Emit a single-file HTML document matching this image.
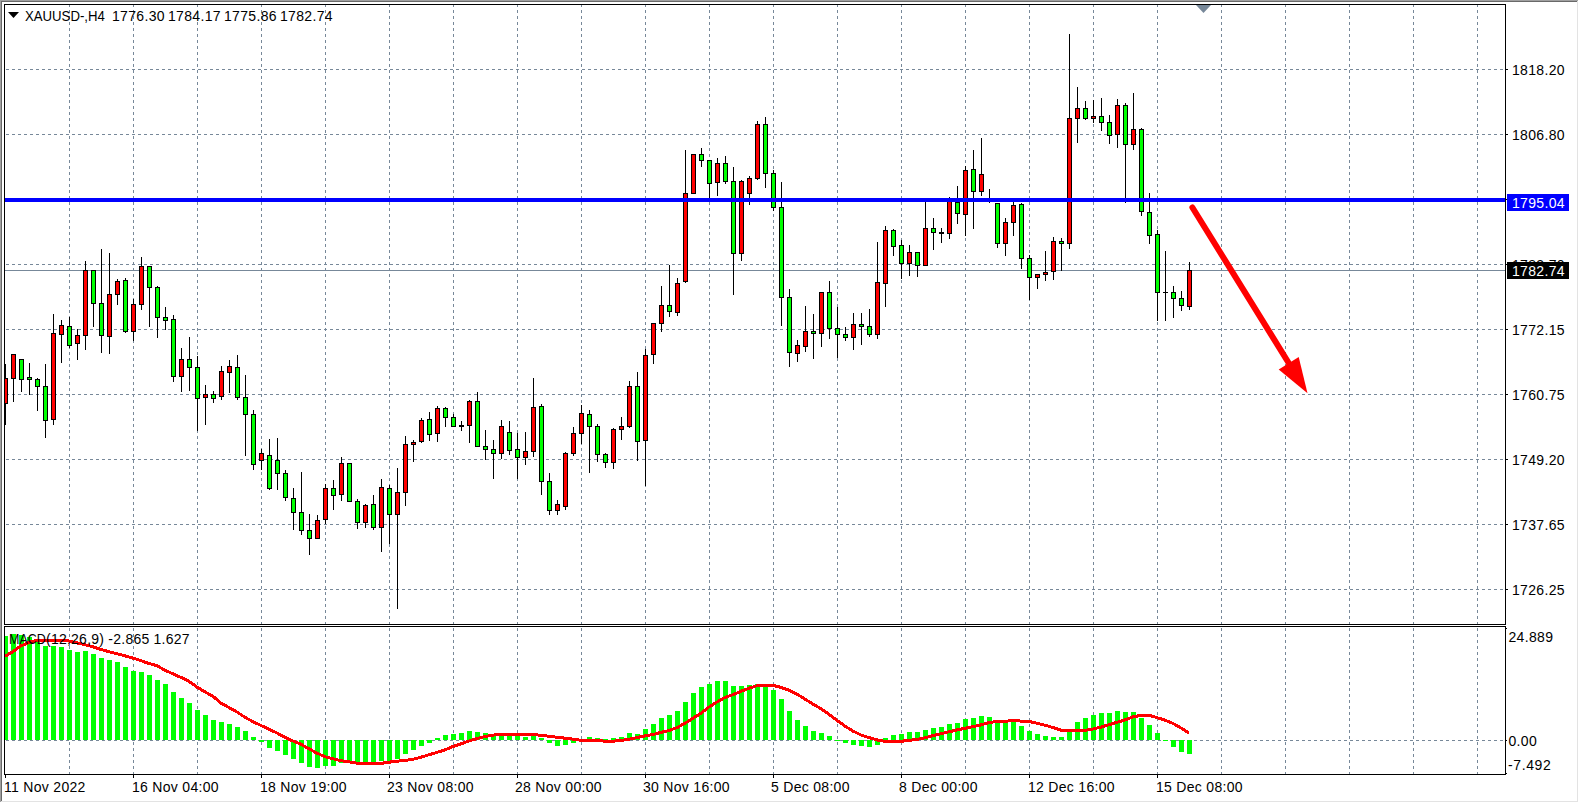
<!DOCTYPE html>
<html><head><meta charset="utf-8"><title>XAUUSD H4</title>
<style>
html,body{margin:0;padding:0;background:#fff;}
body{width:1579px;height:803px;overflow:hidden;}
svg{display:block;}
text{font-family:"Liberation Sans",sans-serif;font-size:14px;fill:#000;}
</style></head><body>
<svg width="1579" height="803" viewBox="0 0 1579 803">
<defs><clipPath id="cm"><rect x="5" y="5" width="1500" height="619"/></clipPath><clipPath id="cs"><rect x="5" y="627" width="1500" height="147"/></clipPath></defs>
<g shape-rendering="crispEdges"><rect x="0" y="0" width="1579" height="803" fill="#fff"/><rect x="0" y="0" width="1578" height="1" fill="#a0a0a0"/><rect x="0" y="0" width="1" height="802" fill="#a0a0a0"/><rect x="1" y="1" width="1576" height="1" fill="#696969"/><rect x="1" y="1" width="1" height="800" fill="#696969"/><rect x="1" y="801" width="1577" height="1" fill="#e3e3e3"/><rect x="1577" y="1" width="1" height="801" fill="#e3e3e3"/></g>
<g clip-path="url(#cm)" shape-rendering="crispEdges"><line x1="0" y1="69.5" x2="1505" y2="69.5" stroke="#778899" stroke-width="1" stroke-dasharray="3 3"/><line x1="0" y1="134.5" x2="1505" y2="134.5" stroke="#778899" stroke-width="1" stroke-dasharray="3 3"/><line x1="0" y1="199.5" x2="1505" y2="199.5" stroke="#778899" stroke-width="1" stroke-dasharray="3 3"/><line x1="0" y1="264.5" x2="1505" y2="264.5" stroke="#778899" stroke-width="1" stroke-dasharray="3 3"/><line x1="0" y1="329.5" x2="1505" y2="329.5" stroke="#778899" stroke-width="1" stroke-dasharray="3 3"/><line x1="0" y1="394.5" x2="1505" y2="394.5" stroke="#778899" stroke-width="1" stroke-dasharray="3 3"/><line x1="0" y1="459.5" x2="1505" y2="459.5" stroke="#778899" stroke-width="1" stroke-dasharray="3 3"/><line x1="0" y1="524.5" x2="1505" y2="524.5" stroke="#778899" stroke-width="1" stroke-dasharray="3 3"/><line x1="0" y1="589.5" x2="1505" y2="589.5" stroke="#778899" stroke-width="1" stroke-dasharray="3 3"/><line x1="69.5" y1="4" x2="69.5" y2="624" stroke="#778899" stroke-width="1" stroke-dasharray="3 3"/><line x1="133.5" y1="4" x2="133.5" y2="624" stroke="#778899" stroke-width="1" stroke-dasharray="3 3"/><line x1="197.5" y1="4" x2="197.5" y2="624" stroke="#778899" stroke-width="1" stroke-dasharray="3 3"/><line x1="261.5" y1="4" x2="261.5" y2="624" stroke="#778899" stroke-width="1" stroke-dasharray="3 3"/><line x1="325.5" y1="4" x2="325.5" y2="624" stroke="#778899" stroke-width="1" stroke-dasharray="3 3"/><line x1="389.5" y1="4" x2="389.5" y2="624" stroke="#778899" stroke-width="1" stroke-dasharray="3 3"/><line x1="453.5" y1="4" x2="453.5" y2="624" stroke="#778899" stroke-width="1" stroke-dasharray="3 3"/><line x1="517.5" y1="4" x2="517.5" y2="624" stroke="#778899" stroke-width="1" stroke-dasharray="3 3"/><line x1="581.5" y1="4" x2="581.5" y2="624" stroke="#778899" stroke-width="1" stroke-dasharray="3 3"/><line x1="645.5" y1="4" x2="645.5" y2="624" stroke="#778899" stroke-width="1" stroke-dasharray="3 3"/><line x1="709.5" y1="4" x2="709.5" y2="624" stroke="#778899" stroke-width="1" stroke-dasharray="3 3"/><line x1="773.5" y1="4" x2="773.5" y2="624" stroke="#778899" stroke-width="1" stroke-dasharray="3 3"/><line x1="837.5" y1="4" x2="837.5" y2="624" stroke="#778899" stroke-width="1" stroke-dasharray="3 3"/><line x1="901.5" y1="4" x2="901.5" y2="624" stroke="#778899" stroke-width="1" stroke-dasharray="3 3"/><line x1="965.5" y1="4" x2="965.5" y2="624" stroke="#778899" stroke-width="1" stroke-dasharray="3 3"/><line x1="1029.5" y1="4" x2="1029.5" y2="624" stroke="#778899" stroke-width="1" stroke-dasharray="3 3"/><line x1="1093.5" y1="4" x2="1093.5" y2="624" stroke="#778899" stroke-width="1" stroke-dasharray="3 3"/><line x1="1157.5" y1="4" x2="1157.5" y2="624" stroke="#778899" stroke-width="1" stroke-dasharray="3 3"/><line x1="1221.5" y1="4" x2="1221.5" y2="624" stroke="#778899" stroke-width="1" stroke-dasharray="3 3"/><line x1="1285.5" y1="4" x2="1285.5" y2="624" stroke="#778899" stroke-width="1" stroke-dasharray="3 3"/><line x1="1349.5" y1="4" x2="1349.5" y2="624" stroke="#778899" stroke-width="1" stroke-dasharray="3 3"/><line x1="1413.5" y1="4" x2="1413.5" y2="624" stroke="#778899" stroke-width="1" stroke-dasharray="3 3"/><line x1="1477.5" y1="4" x2="1477.5" y2="624" stroke="#778899" stroke-width="1" stroke-dasharray="3 3"/><rect x="5" y="270" width="1500" height="1" fill="#778899"/><rect x="5" y="364" width="1" height="61" fill="#000"/><rect x="3" y="378" width="5" height="26" fill="#000"/><rect x="4" y="379" width="3" height="24" fill="#ff0000"/><rect x="13" y="354" width="1" height="48" fill="#000"/><rect x="11" y="354" width="5" height="25" fill="#000"/><rect x="12" y="355" width="3" height="23" fill="#ff0000"/><rect x="21" y="359" width="1" height="33" fill="#000"/><rect x="19" y="359" width="5" height="21" fill="#000"/><rect x="20" y="360" width="3" height="19" fill="#00ff00"/><rect x="29" y="363" width="1" height="32" fill="#000"/><rect x="27" y="377" width="5" height="3" fill="#000"/><rect x="28" y="378" width="3" height="1" fill="#00ff00"/><rect x="37" y="378" width="1" height="33" fill="#000"/><rect x="35" y="379" width="5" height="8" fill="#000"/><rect x="36" y="380" width="3" height="6" fill="#00ff00"/><rect x="45" y="364" width="1" height="74" fill="#000"/><rect x="43" y="386" width="5" height="35" fill="#000"/><rect x="44" y="387" width="3" height="33" fill="#00ff00"/><rect x="53" y="314" width="1" height="111" fill="#000"/><rect x="51" y="333" width="5" height="87" fill="#000"/><rect x="52" y="334" width="3" height="85" fill="#ff0000"/><rect x="61" y="320" width="1" height="43" fill="#000"/><rect x="59" y="325" width="5" height="10" fill="#000"/><rect x="60" y="326" width="3" height="8" fill="#ff0000"/><rect x="69" y="317" width="1" height="31" fill="#000"/><rect x="67" y="326" width="5" height="20" fill="#000"/><rect x="68" y="327" width="3" height="18" fill="#00ff00"/><rect x="77" y="329" width="1" height="31" fill="#000"/><rect x="75" y="335" width="5" height="9" fill="#000"/><rect x="76" y="336" width="3" height="7" fill="#ff0000"/><rect x="85" y="261" width="1" height="89" fill="#000"/><rect x="83" y="270" width="5" height="66" fill="#000"/><rect x="84" y="271" width="3" height="64" fill="#ff0000"/><rect x="93" y="270" width="1" height="57" fill="#000"/><rect x="91" y="270" width="5" height="34" fill="#000"/><rect x="92" y="271" width="3" height="32" fill="#00ff00"/><rect x="101" y="249" width="1" height="104" fill="#000"/><rect x="99" y="303" width="5" height="33" fill="#000"/><rect x="100" y="304" width="3" height="31" fill="#00ff00"/><rect x="109" y="253" width="1" height="101" fill="#000"/><rect x="107" y="294" width="5" height="43" fill="#000"/><rect x="108" y="295" width="3" height="41" fill="#ff0000"/><rect x="117" y="279" width="1" height="26" fill="#000"/><rect x="115" y="281" width="5" height="14" fill="#000"/><rect x="116" y="282" width="3" height="12" fill="#ff0000"/><rect x="125" y="278" width="1" height="55" fill="#000"/><rect x="123" y="280" width="5" height="52" fill="#000"/><rect x="124" y="281" width="3" height="50" fill="#00ff00"/><rect x="133" y="299" width="1" height="42" fill="#000"/><rect x="131" y="304" width="5" height="28" fill="#000"/><rect x="132" y="305" width="3" height="26" fill="#ff0000"/><rect x="141" y="257" width="1" height="53" fill="#000"/><rect x="139" y="266" width="5" height="39" fill="#000"/><rect x="140" y="267" width="3" height="37" fill="#ff0000"/><rect x="149" y="266" width="1" height="61" fill="#000"/><rect x="147" y="266" width="5" height="22" fill="#000"/><rect x="148" y="267" width="3" height="20" fill="#00ff00"/><rect x="157" y="286" width="1" height="52" fill="#000"/><rect x="155" y="287" width="5" height="31" fill="#000"/><rect x="156" y="288" width="3" height="29" fill="#00ff00"/><rect x="165" y="307" width="1" height="23" fill="#000"/><rect x="163" y="317" width="5" height="4" fill="#000"/><rect x="164" y="318" width="3" height="2" fill="#00ff00"/><rect x="173" y="315" width="1" height="67" fill="#000"/><rect x="171" y="319" width="5" height="58" fill="#000"/><rect x="172" y="320" width="3" height="56" fill="#00ff00"/><rect x="181" y="348" width="1" height="44" fill="#000"/><rect x="179" y="359" width="5" height="18" fill="#000"/><rect x="180" y="360" width="3" height="16" fill="#ff0000"/><rect x="189" y="337" width="1" height="54" fill="#000"/><rect x="187" y="359" width="5" height="9" fill="#000"/><rect x="188" y="360" width="3" height="7" fill="#00ff00"/><rect x="197" y="356" width="1" height="75" fill="#000"/><rect x="195" y="367" width="5" height="32" fill="#000"/><rect x="196" y="368" width="3" height="30" fill="#00ff00"/><rect x="205" y="385" width="1" height="40" fill="#000"/><rect x="203" y="394" width="5" height="4" fill="#000"/><rect x="204" y="395" width="3" height="2" fill="#ff0000"/><rect x="213" y="391" width="1" height="12" fill="#000"/><rect x="211" y="394" width="5" height="5" fill="#000"/><rect x="212" y="395" width="3" height="3" fill="#00ff00"/><rect x="221" y="366" width="1" height="34" fill="#000"/><rect x="219" y="371" width="5" height="26" fill="#000"/><rect x="220" y="372" width="3" height="24" fill="#ff0000"/><rect x="229" y="360" width="1" height="33" fill="#000"/><rect x="227" y="366" width="5" height="7" fill="#000"/><rect x="228" y="367" width="3" height="5" fill="#ff0000"/><rect x="237" y="355" width="1" height="45" fill="#000"/><rect x="235" y="367" width="5" height="31" fill="#000"/><rect x="236" y="368" width="3" height="29" fill="#00ff00"/><rect x="245" y="375" width="1" height="81" fill="#000"/><rect x="243" y="397" width="5" height="18" fill="#000"/><rect x="244" y="398" width="3" height="16" fill="#00ff00"/><rect x="253" y="410" width="1" height="60" fill="#000"/><rect x="251" y="414" width="5" height="51" fill="#000"/><rect x="252" y="415" width="3" height="49" fill="#00ff00"/><rect x="261" y="449" width="1" height="21" fill="#000"/><rect x="259" y="453" width="5" height="8" fill="#000"/><rect x="260" y="454" width="3" height="6" fill="#ff0000"/><rect x="269" y="439" width="1" height="51" fill="#000"/><rect x="267" y="455" width="5" height="34" fill="#000"/><rect x="268" y="456" width="3" height="32" fill="#00ff00"/><rect x="277" y="438" width="1" height="52" fill="#000"/><rect x="275" y="460" width="5" height="14" fill="#000"/><rect x="276" y="461" width="3" height="12" fill="#00ff00"/><rect x="285" y="470" width="1" height="31" fill="#000"/><rect x="283" y="473" width="5" height="25" fill="#000"/><rect x="284" y="474" width="3" height="23" fill="#00ff00"/><rect x="293" y="488" width="1" height="42" fill="#000"/><rect x="291" y="498" width="5" height="15" fill="#000"/><rect x="292" y="499" width="3" height="13" fill="#00ff00"/><rect x="301" y="472" width="1" height="63" fill="#000"/><rect x="299" y="512" width="5" height="19" fill="#000"/><rect x="300" y="513" width="3" height="17" fill="#00ff00"/><rect x="309" y="514" width="1" height="41" fill="#000"/><rect x="307" y="530" width="5" height="9" fill="#000"/><rect x="308" y="531" width="3" height="7" fill="#00ff00"/><rect x="317" y="515" width="1" height="24" fill="#000"/><rect x="315" y="520" width="5" height="19" fill="#000"/><rect x="316" y="521" width="3" height="17" fill="#ff0000"/><rect x="325" y="484" width="1" height="40" fill="#000"/><rect x="323" y="488" width="5" height="32" fill="#000"/><rect x="324" y="489" width="3" height="30" fill="#ff0000"/><rect x="333" y="480" width="1" height="30" fill="#000"/><rect x="331" y="488" width="5" height="8" fill="#000"/><rect x="332" y="489" width="3" height="6" fill="#00ff00"/><rect x="341" y="457" width="1" height="44" fill="#000"/><rect x="339" y="463" width="5" height="32" fill="#000"/><rect x="340" y="464" width="3" height="30" fill="#ff0000"/><rect x="349" y="463" width="1" height="39" fill="#000"/><rect x="347" y="463" width="5" height="39" fill="#000"/><rect x="348" y="464" width="3" height="37" fill="#00ff00"/><rect x="357" y="499" width="1" height="30" fill="#000"/><rect x="355" y="501" width="5" height="22" fill="#000"/><rect x="356" y="502" width="3" height="20" fill="#00ff00"/><rect x="365" y="504" width="1" height="24" fill="#000"/><rect x="363" y="505" width="5" height="18" fill="#000"/><rect x="364" y="506" width="3" height="16" fill="#ff0000"/><rect x="373" y="495" width="1" height="35" fill="#000"/><rect x="371" y="504" width="5" height="24" fill="#000"/><rect x="372" y="505" width="3" height="22" fill="#00ff00"/><rect x="381" y="479" width="1" height="73" fill="#000"/><rect x="379" y="487" width="5" height="41" fill="#000"/><rect x="380" y="488" width="3" height="39" fill="#ff0000"/><rect x="389" y="485" width="1" height="59" fill="#000"/><rect x="387" y="488" width="5" height="27" fill="#000"/><rect x="388" y="489" width="3" height="25" fill="#00ff00"/><rect x="397" y="468" width="1" height="141" fill="#000"/><rect x="395" y="492" width="5" height="23" fill="#000"/><rect x="396" y="493" width="3" height="21" fill="#ff0000"/><rect x="405" y="436" width="1" height="70" fill="#000"/><rect x="403" y="444" width="5" height="49" fill="#000"/><rect x="404" y="445" width="3" height="47" fill="#ff0000"/><rect x="413" y="440" width="1" height="22" fill="#000"/><rect x="411" y="442" width="5" height="3" fill="#000"/><rect x="412" y="443" width="3" height="1" fill="#ff0000"/><rect x="421" y="418" width="1" height="25" fill="#000"/><rect x="419" y="420" width="5" height="22" fill="#000"/><rect x="420" y="421" width="3" height="20" fill="#ff0000"/><rect x="429" y="412" width="1" height="29" fill="#000"/><rect x="427" y="419" width="5" height="16" fill="#000"/><rect x="428" y="420" width="3" height="14" fill="#00ff00"/><rect x="437" y="406" width="1" height="36" fill="#000"/><rect x="435" y="408" width="5" height="26" fill="#000"/><rect x="436" y="409" width="3" height="24" fill="#ff0000"/><rect x="445" y="407" width="1" height="20" fill="#000"/><rect x="443" y="408" width="5" height="10" fill="#000"/><rect x="444" y="409" width="3" height="8" fill="#00ff00"/><rect x="453" y="414" width="1" height="13" fill="#000"/><rect x="451" y="417" width="5" height="10" fill="#000"/><rect x="452" y="418" width="3" height="8" fill="#00ff00"/><rect x="461" y="421" width="1" height="10" fill="#000"/><rect x="459" y="425" width="5" height="2" fill="#000"/><rect x="469" y="400" width="1" height="43" fill="#000"/><rect x="467" y="401" width="5" height="25" fill="#000"/><rect x="468" y="402" width="3" height="23" fill="#ff0000"/><rect x="477" y="392" width="1" height="55" fill="#000"/><rect x="475" y="401" width="5" height="46" fill="#000"/><rect x="476" y="402" width="3" height="44" fill="#00ff00"/><rect x="485" y="430" width="1" height="30" fill="#000"/><rect x="483" y="446" width="5" height="4" fill="#000"/><rect x="484" y="447" width="3" height="2" fill="#00ff00"/><rect x="493" y="440" width="1" height="39" fill="#000"/><rect x="491" y="449" width="5" height="5" fill="#000"/><rect x="492" y="450" width="3" height="3" fill="#00ff00"/><rect x="501" y="420" width="1" height="39" fill="#000"/><rect x="499" y="426" width="5" height="28" fill="#000"/><rect x="500" y="427" width="3" height="26" fill="#ff0000"/><rect x="509" y="421" width="1" height="34" fill="#000"/><rect x="507" y="432" width="5" height="19" fill="#000"/><rect x="508" y="433" width="3" height="17" fill="#00ff00"/><rect x="517" y="433" width="1" height="46" fill="#000"/><rect x="515" y="449" width="5" height="9" fill="#000"/><rect x="516" y="450" width="3" height="7" fill="#00ff00"/><rect x="525" y="432" width="1" height="33" fill="#000"/><rect x="523" y="451" width="5" height="7" fill="#000"/><rect x="524" y="452" width="3" height="5" fill="#ff0000"/><rect x="533" y="378" width="1" height="79" fill="#000"/><rect x="531" y="407" width="5" height="45" fill="#000"/><rect x="532" y="408" width="3" height="43" fill="#ff0000"/><rect x="541" y="404" width="1" height="91" fill="#000"/><rect x="539" y="406" width="5" height="76" fill="#000"/><rect x="540" y="407" width="3" height="74" fill="#00ff00"/><rect x="549" y="473" width="1" height="42" fill="#000"/><rect x="547" y="481" width="5" height="30" fill="#000"/><rect x="548" y="482" width="3" height="28" fill="#00ff00"/><rect x="557" y="500" width="1" height="15" fill="#000"/><rect x="555" y="504" width="5" height="7" fill="#000"/><rect x="556" y="505" width="3" height="5" fill="#ff0000"/><rect x="565" y="452" width="1" height="58" fill="#000"/><rect x="563" y="453" width="5" height="54" fill="#000"/><rect x="564" y="454" width="3" height="52" fill="#ff0000"/><rect x="573" y="427" width="1" height="29" fill="#000"/><rect x="571" y="433" width="5" height="21" fill="#000"/><rect x="572" y="434" width="3" height="19" fill="#ff0000"/><rect x="581" y="405" width="1" height="39" fill="#000"/><rect x="579" y="413" width="5" height="21" fill="#000"/><rect x="580" y="414" width="3" height="19" fill="#ff0000"/><rect x="589" y="410" width="1" height="63" fill="#000"/><rect x="587" y="414" width="5" height="13" fill="#000"/><rect x="588" y="415" width="3" height="11" fill="#00ff00"/><rect x="597" y="424" width="1" height="38" fill="#000"/><rect x="595" y="426" width="5" height="29" fill="#000"/><rect x="596" y="427" width="3" height="27" fill="#00ff00"/><rect x="605" y="453" width="1" height="15" fill="#000"/><rect x="603" y="454" width="5" height="9" fill="#000"/><rect x="604" y="455" width="3" height="7" fill="#00ff00"/><rect x="613" y="428" width="1" height="41" fill="#000"/><rect x="611" y="429" width="5" height="34" fill="#000"/><rect x="612" y="430" width="3" height="32" fill="#ff0000"/><rect x="621" y="417" width="1" height="23" fill="#000"/><rect x="619" y="426" width="5" height="4" fill="#000"/><rect x="620" y="427" width="3" height="2" fill="#ff0000"/><rect x="629" y="381" width="1" height="47" fill="#000"/><rect x="627" y="386" width="5" height="41" fill="#000"/><rect x="628" y="387" width="3" height="39" fill="#ff0000"/><rect x="637" y="372" width="1" height="89" fill="#000"/><rect x="635" y="386" width="5" height="56" fill="#000"/><rect x="636" y="387" width="3" height="54" fill="#00ff00"/><rect x="645" y="349" width="1" height="137" fill="#000"/><rect x="643" y="355" width="5" height="86" fill="#000"/><rect x="644" y="356" width="3" height="84" fill="#ff0000"/><rect x="653" y="323" width="1" height="41" fill="#000"/><rect x="651" y="323" width="5" height="32" fill="#000"/><rect x="652" y="324" width="3" height="30" fill="#ff0000"/><rect x="661" y="286" width="1" height="46" fill="#000"/><rect x="659" y="305" width="5" height="19" fill="#000"/><rect x="660" y="306" width="3" height="17" fill="#ff0000"/><rect x="669" y="265" width="1" height="52" fill="#000"/><rect x="667" y="305" width="5" height="7" fill="#000"/><rect x="668" y="306" width="3" height="5" fill="#00ff00"/><rect x="677" y="278" width="1" height="38" fill="#000"/><rect x="675" y="283" width="5" height="30" fill="#000"/><rect x="676" y="284" width="3" height="28" fill="#ff0000"/><rect x="685" y="150" width="1" height="133" fill="#000"/><rect x="683" y="193" width="5" height="89" fill="#000"/><rect x="684" y="194" width="3" height="87" fill="#ff0000"/><rect x="693" y="154" width="1" height="40" fill="#000"/><rect x="691" y="154" width="5" height="40" fill="#000"/><rect x="692" y="155" width="3" height="38" fill="#ff0000"/><rect x="701" y="148" width="1" height="19" fill="#000"/><rect x="699" y="154" width="5" height="7" fill="#000"/><rect x="700" y="155" width="3" height="5" fill="#00ff00"/><rect x="709" y="160" width="1" height="40" fill="#000"/><rect x="707" y="160" width="5" height="24" fill="#000"/><rect x="708" y="161" width="3" height="22" fill="#00ff00"/><rect x="717" y="158" width="1" height="38" fill="#000"/><rect x="715" y="163" width="5" height="20" fill="#000"/><rect x="716" y="164" width="3" height="18" fill="#ff0000"/><rect x="725" y="156" width="1" height="28" fill="#000"/><rect x="723" y="163" width="5" height="19" fill="#000"/><rect x="724" y="164" width="3" height="17" fill="#00ff00"/><rect x="733" y="167" width="1" height="128" fill="#000"/><rect x="731" y="181" width="5" height="73" fill="#000"/><rect x="732" y="182" width="3" height="71" fill="#00ff00"/><rect x="741" y="180" width="1" height="81" fill="#000"/><rect x="739" y="181" width="5" height="73" fill="#000"/><rect x="740" y="182" width="3" height="71" fill="#ff0000"/><rect x="749" y="176" width="1" height="29" fill="#000"/><rect x="747" y="178" width="5" height="16" fill="#000"/><rect x="748" y="179" width="3" height="14" fill="#ff0000"/><rect x="757" y="121" width="1" height="59" fill="#000"/><rect x="755" y="124" width="5" height="55" fill="#000"/><rect x="756" y="125" width="3" height="53" fill="#ff0000"/><rect x="765" y="117" width="1" height="71" fill="#000"/><rect x="763" y="124" width="5" height="50" fill="#000"/><rect x="764" y="125" width="3" height="48" fill="#00ff00"/><rect x="773" y="170" width="1" height="41" fill="#000"/><rect x="771" y="173" width="5" height="35" fill="#000"/><rect x="772" y="174" width="3" height="33" fill="#00ff00"/><rect x="781" y="182" width="1" height="144" fill="#000"/><rect x="779" y="207" width="5" height="91" fill="#000"/><rect x="780" y="208" width="3" height="89" fill="#00ff00"/><rect x="789" y="289" width="1" height="78" fill="#000"/><rect x="787" y="297" width="5" height="56" fill="#000"/><rect x="788" y="298" width="3" height="54" fill="#00ff00"/><rect x="797" y="340" width="1" height="22" fill="#000"/><rect x="795" y="345" width="5" height="9" fill="#000"/><rect x="796" y="346" width="3" height="7" fill="#ff0000"/><rect x="805" y="306" width="1" height="46" fill="#000"/><rect x="803" y="331" width="5" height="16" fill="#000"/><rect x="804" y="332" width="3" height="14" fill="#ff0000"/><rect x="813" y="314" width="1" height="45" fill="#000"/><rect x="811" y="331" width="5" height="3" fill="#000"/><rect x="812" y="332" width="3" height="1" fill="#00ff00"/><rect x="821" y="292" width="1" height="55" fill="#000"/><rect x="819" y="292" width="5" height="42" fill="#000"/><rect x="820" y="293" width="3" height="40" fill="#ff0000"/><rect x="829" y="281" width="1" height="58" fill="#000"/><rect x="827" y="292" width="5" height="37" fill="#000"/><rect x="828" y="293" width="3" height="35" fill="#00ff00"/><rect x="837" y="307" width="1" height="51" fill="#000"/><rect x="835" y="328" width="5" height="7" fill="#000"/><rect x="836" y="329" width="3" height="5" fill="#00ff00"/><rect x="845" y="327" width="1" height="14" fill="#000"/><rect x="843" y="334" width="5" height="4" fill="#000"/><rect x="844" y="335" width="3" height="2" fill="#00ff00"/><rect x="853" y="313" width="1" height="37" fill="#000"/><rect x="851" y="324" width="5" height="14" fill="#000"/><rect x="852" y="325" width="3" height="12" fill="#ff0000"/><rect x="861" y="313" width="1" height="32" fill="#000"/><rect x="859" y="324" width="5" height="3" fill="#000"/><rect x="860" y="325" width="3" height="1" fill="#00ff00"/><rect x="869" y="309" width="1" height="28" fill="#000"/><rect x="867" y="326" width="5" height="9" fill="#000"/><rect x="868" y="327" width="3" height="7" fill="#00ff00"/><rect x="877" y="242" width="1" height="97" fill="#000"/><rect x="875" y="282" width="5" height="53" fill="#000"/><rect x="876" y="283" width="3" height="51" fill="#ff0000"/><rect x="885" y="226" width="1" height="81" fill="#000"/><rect x="883" y="230" width="5" height="54" fill="#000"/><rect x="884" y="231" width="3" height="52" fill="#ff0000"/><rect x="893" y="229" width="1" height="27" fill="#000"/><rect x="891" y="230" width="5" height="17" fill="#000"/><rect x="892" y="231" width="3" height="15" fill="#00ff00"/><rect x="901" y="240" width="1" height="39" fill="#000"/><rect x="899" y="245" width="5" height="19" fill="#000"/><rect x="900" y="246" width="3" height="17" fill="#00ff00"/><rect x="909" y="245" width="1" height="31" fill="#000"/><rect x="907" y="252" width="5" height="12" fill="#000"/><rect x="908" y="253" width="3" height="10" fill="#ff0000"/><rect x="917" y="252" width="1" height="25" fill="#000"/><rect x="915" y="252" width="5" height="14" fill="#000"/><rect x="916" y="253" width="3" height="12" fill="#00ff00"/><rect x="925" y="202" width="1" height="64" fill="#000"/><rect x="923" y="228" width="5" height="38" fill="#000"/><rect x="924" y="229" width="3" height="36" fill="#ff0000"/><rect x="933" y="218" width="1" height="32" fill="#000"/><rect x="931" y="228" width="5" height="5" fill="#000"/><rect x="932" y="229" width="3" height="3" fill="#00ff00"/><rect x="941" y="228" width="1" height="15" fill="#000"/><rect x="939" y="232" width="5" height="2" fill="#000"/><rect x="949" y="197" width="1" height="42" fill="#000"/><rect x="947" y="198" width="5" height="36" fill="#000"/><rect x="948" y="199" width="3" height="34" fill="#ff0000"/><rect x="957" y="186" width="1" height="38" fill="#000"/><rect x="955" y="202" width="5" height="12" fill="#000"/><rect x="956" y="203" width="3" height="10" fill="#00ff00"/><rect x="965" y="166" width="1" height="70" fill="#000"/><rect x="963" y="170" width="5" height="45" fill="#000"/><rect x="964" y="171" width="3" height="43" fill="#ff0000"/><rect x="973" y="150" width="1" height="79" fill="#000"/><rect x="971" y="169" width="5" height="23" fill="#000"/><rect x="972" y="170" width="3" height="21" fill="#00ff00"/><rect x="981" y="138" width="1" height="58" fill="#000"/><rect x="979" y="174" width="5" height="18" fill="#000"/><rect x="980" y="175" width="3" height="16" fill="#ff0000"/><rect x="989" y="189" width="1" height="14" fill="#000"/><rect x="987" y="199" width="5" height="2" fill="#000"/><rect x="997" y="203" width="1" height="45" fill="#000"/><rect x="995" y="203" width="5" height="41" fill="#000"/><rect x="996" y="204" width="3" height="39" fill="#00ff00"/><rect x="1005" y="218" width="1" height="38" fill="#000"/><rect x="1003" y="222" width="5" height="22" fill="#000"/><rect x="1004" y="223" width="3" height="20" fill="#ff0000"/><rect x="1013" y="202" width="1" height="34" fill="#000"/><rect x="1011" y="205" width="5" height="18" fill="#000"/><rect x="1012" y="206" width="3" height="16" fill="#ff0000"/><rect x="1021" y="203" width="1" height="66" fill="#000"/><rect x="1019" y="204" width="5" height="55" fill="#000"/><rect x="1020" y="205" width="3" height="53" fill="#00ff00"/><rect x="1029" y="255" width="1" height="45" fill="#000"/><rect x="1027" y="258" width="5" height="20" fill="#000"/><rect x="1028" y="259" width="3" height="18" fill="#00ff00"/><rect x="1037" y="274" width="1" height="15" fill="#000"/><rect x="1035" y="274" width="5" height="4" fill="#000"/><rect x="1036" y="275" width="3" height="2" fill="#ff0000"/><rect x="1045" y="251" width="1" height="30" fill="#000"/><rect x="1043" y="272" width="5" height="3" fill="#000"/><rect x="1044" y="273" width="3" height="1" fill="#ff0000"/><rect x="1053" y="237" width="1" height="43" fill="#000"/><rect x="1051" y="241" width="5" height="31" fill="#000"/><rect x="1052" y="242" width="3" height="29" fill="#ff0000"/><rect x="1061" y="238" width="1" height="33" fill="#000"/><rect x="1059" y="241" width="5" height="3" fill="#000"/><rect x="1060" y="242" width="3" height="1" fill="#00ff00"/><rect x="1069" y="34" width="1" height="215" fill="#000"/><rect x="1067" y="118" width="5" height="126" fill="#000"/><rect x="1068" y="119" width="3" height="124" fill="#ff0000"/><rect x="1077" y="87" width="1" height="56" fill="#000"/><rect x="1075" y="108" width="5" height="11" fill="#000"/><rect x="1076" y="109" width="3" height="9" fill="#ff0000"/><rect x="1085" y="101" width="1" height="19" fill="#000"/><rect x="1083" y="108" width="5" height="11" fill="#000"/><rect x="1084" y="109" width="3" height="9" fill="#00ff00"/><rect x="1093" y="100" width="1" height="23" fill="#000"/><rect x="1091" y="116" width="5" height="3" fill="#000"/><rect x="1092" y="117" width="3" height="1" fill="#ff0000"/><rect x="1101" y="98" width="1" height="33" fill="#000"/><rect x="1099" y="116" width="5" height="7" fill="#000"/><rect x="1100" y="117" width="3" height="5" fill="#00ff00"/><rect x="1109" y="115" width="1" height="29" fill="#000"/><rect x="1107" y="122" width="5" height="14" fill="#000"/><rect x="1108" y="123" width="3" height="12" fill="#00ff00"/><rect x="1117" y="99" width="1" height="49" fill="#000"/><rect x="1115" y="105" width="5" height="30" fill="#000"/><rect x="1116" y="106" width="3" height="28" fill="#ff0000"/><rect x="1125" y="103" width="1" height="100" fill="#000"/><rect x="1123" y="105" width="5" height="40" fill="#000"/><rect x="1124" y="106" width="3" height="38" fill="#00ff00"/><rect x="1133" y="93" width="1" height="57" fill="#000"/><rect x="1131" y="129" width="5" height="16" fill="#000"/><rect x="1132" y="130" width="3" height="14" fill="#ff0000"/><rect x="1141" y="128" width="1" height="88" fill="#000"/><rect x="1139" y="129" width="5" height="83" fill="#000"/><rect x="1140" y="130" width="3" height="81" fill="#00ff00"/><rect x="1149" y="193" width="1" height="51" fill="#000"/><rect x="1147" y="212" width="5" height="24" fill="#000"/><rect x="1148" y="213" width="3" height="22" fill="#00ff00"/><rect x="1157" y="230" width="1" height="91" fill="#000"/><rect x="1155" y="234" width="5" height="59" fill="#000"/><rect x="1156" y="235" width="3" height="57" fill="#00ff00"/><rect x="1165" y="251" width="1" height="70" fill="#000"/><rect x="1163" y="292" width="5" height="1" fill="#000"/><rect x="1173" y="286" width="1" height="32" fill="#000"/><rect x="1171" y="292" width="5" height="7" fill="#000"/><rect x="1172" y="293" width="3" height="5" fill="#00ff00"/><rect x="1181" y="291" width="1" height="20" fill="#000"/><rect x="1179" y="298" width="5" height="8" fill="#000"/><rect x="1180" y="299" width="3" height="6" fill="#00ff00"/><rect x="1189" y="262" width="1" height="48" fill="#000"/><rect x="1187" y="270" width="5" height="37" fill="#000"/><rect x="1188" y="271" width="3" height="35" fill="#ff0000"/><rect x="5" y="198" width="1500" height="4" fill="#0000ff"/></g>
<polygon points="1196,5 1211,5 1203.5,13" fill="#778899"/>
<g><line x1="1192.4" y1="207.5" x2="1289" y2="363.5" stroke="#ff0000" stroke-width="6" stroke-linecap="round"/><polygon points="1278.7,369.5 1298.7,357 1307.5,393.2" fill="#ff0000"/></g>
<g clip-path="url(#cs)" shape-rendering="crispEdges"><line x1="0" y1="740.5" x2="1505" y2="740.5" stroke="#778899" stroke-width="1" stroke-dasharray="3 3"/><line x1="69.5" y1="4" x2="69.5" y2="775" stroke="#778899" stroke-width="1" stroke-dasharray="3 3"/><line x1="133.5" y1="4" x2="133.5" y2="775" stroke="#778899" stroke-width="1" stroke-dasharray="3 3"/><line x1="197.5" y1="4" x2="197.5" y2="775" stroke="#778899" stroke-width="1" stroke-dasharray="3 3"/><line x1="261.5" y1="4" x2="261.5" y2="775" stroke="#778899" stroke-width="1" stroke-dasharray="3 3"/><line x1="325.5" y1="4" x2="325.5" y2="775" stroke="#778899" stroke-width="1" stroke-dasharray="3 3"/><line x1="389.5" y1="4" x2="389.5" y2="775" stroke="#778899" stroke-width="1" stroke-dasharray="3 3"/><line x1="453.5" y1="4" x2="453.5" y2="775" stroke="#778899" stroke-width="1" stroke-dasharray="3 3"/><line x1="517.5" y1="4" x2="517.5" y2="775" stroke="#778899" stroke-width="1" stroke-dasharray="3 3"/><line x1="581.5" y1="4" x2="581.5" y2="775" stroke="#778899" stroke-width="1" stroke-dasharray="3 3"/><line x1="645.5" y1="4" x2="645.5" y2="775" stroke="#778899" stroke-width="1" stroke-dasharray="3 3"/><line x1="709.5" y1="4" x2="709.5" y2="775" stroke="#778899" stroke-width="1" stroke-dasharray="3 3"/><line x1="773.5" y1="4" x2="773.5" y2="775" stroke="#778899" stroke-width="1" stroke-dasharray="3 3"/><line x1="837.5" y1="4" x2="837.5" y2="775" stroke="#778899" stroke-width="1" stroke-dasharray="3 3"/><line x1="901.5" y1="4" x2="901.5" y2="775" stroke="#778899" stroke-width="1" stroke-dasharray="3 3"/><line x1="965.5" y1="4" x2="965.5" y2="775" stroke="#778899" stroke-width="1" stroke-dasharray="3 3"/><line x1="1029.5" y1="4" x2="1029.5" y2="775" stroke="#778899" stroke-width="1" stroke-dasharray="3 3"/><line x1="1093.5" y1="4" x2="1093.5" y2="775" stroke="#778899" stroke-width="1" stroke-dasharray="3 3"/><line x1="1157.5" y1="4" x2="1157.5" y2="775" stroke="#778899" stroke-width="1" stroke-dasharray="3 3"/><line x1="1221.5" y1="4" x2="1221.5" y2="775" stroke="#778899" stroke-width="1" stroke-dasharray="3 3"/><line x1="1285.5" y1="4" x2="1285.5" y2="775" stroke="#778899" stroke-width="1" stroke-dasharray="3 3"/><line x1="1349.5" y1="4" x2="1349.5" y2="775" stroke="#778899" stroke-width="1" stroke-dasharray="3 3"/><line x1="1413.5" y1="4" x2="1413.5" y2="775" stroke="#778899" stroke-width="1" stroke-dasharray="3 3"/><line x1="1477.5" y1="4" x2="1477.5" y2="775" stroke="#778899" stroke-width="1" stroke-dasharray="3 3"/><rect x="3" y="636" width="5" height="104" fill="#00ff00"/><rect x="11" y="634" width="5" height="106" fill="#00ff00"/><rect x="19" y="635" width="5" height="105" fill="#00ff00"/><rect x="27" y="637" width="5" height="103" fill="#00ff00"/><rect x="35" y="640" width="5" height="100" fill="#00ff00"/><rect x="43" y="646" width="5" height="94" fill="#00ff00"/><rect x="51" y="646" width="5" height="94" fill="#00ff00"/><rect x="59" y="647" width="5" height="93" fill="#00ff00"/><rect x="67" y="650" width="5" height="90" fill="#00ff00"/><rect x="75" y="652" width="5" height="88" fill="#00ff00"/><rect x="83" y="651" width="5" height="89" fill="#00ff00"/><rect x="91" y="654" width="5" height="86" fill="#00ff00"/><rect x="99" y="658" width="5" height="82" fill="#00ff00"/><rect x="107" y="660" width="5" height="80" fill="#00ff00"/><rect x="115" y="662" width="5" height="78" fill="#00ff00"/><rect x="123" y="667" width="5" height="73" fill="#00ff00"/><rect x="131" y="671" width="5" height="69" fill="#00ff00"/><rect x="139" y="672" width="5" height="68" fill="#00ff00"/><rect x="147" y="675" width="5" height="65" fill="#00ff00"/><rect x="155" y="680" width="5" height="60" fill="#00ff00"/><rect x="163" y="684" width="5" height="56" fill="#00ff00"/><rect x="171" y="692" width="5" height="48" fill="#00ff00"/><rect x="179" y="698" width="5" height="42" fill="#00ff00"/><rect x="187" y="703" width="5" height="37" fill="#00ff00"/><rect x="195" y="710" width="5" height="30" fill="#00ff00"/><rect x="203" y="715" width="5" height="25" fill="#00ff00"/><rect x="211" y="720" width="5" height="20" fill="#00ff00"/><rect x="219" y="722" width="5" height="18" fill="#00ff00"/><rect x="227" y="724" width="5" height="16" fill="#00ff00"/><rect x="235" y="727" width="5" height="13" fill="#00ff00"/><rect x="243" y="731" width="5" height="9" fill="#00ff00"/><rect x="251" y="737" width="5" height="3" fill="#00ff00"/><rect x="259" y="740" width="5" height="2" fill="#00ff00"/><rect x="267" y="740" width="5" height="8" fill="#00ff00"/><rect x="275" y="740" width="5" height="11" fill="#00ff00"/><rect x="283" y="740" width="5" height="15" fill="#00ff00"/><rect x="291" y="740" width="5" height="19" fill="#00ff00"/><rect x="299" y="740" width="5" height="23" fill="#00ff00"/><rect x="307" y="740" width="5" height="27" fill="#00ff00"/><rect x="315" y="740" width="5" height="28" fill="#00ff00"/><rect x="323" y="740" width="5" height="26" fill="#00ff00"/><rect x="331" y="740" width="5" height="26" fill="#00ff00"/><rect x="339" y="740" width="5" height="23" fill="#00ff00"/><rect x="347" y="740" width="5" height="22" fill="#00ff00"/><rect x="355" y="740" width="5" height="22" fill="#00ff00"/><rect x="363" y="740" width="5" height="22" fill="#00ff00"/><rect x="371" y="740" width="5" height="22" fill="#00ff00"/><rect x="379" y="740" width="5" height="21" fill="#00ff00"/><rect x="387" y="740" width="5" height="21" fill="#00ff00"/><rect x="395" y="740" width="5" height="19" fill="#00ff00"/><rect x="403" y="740" width="5" height="14" fill="#00ff00"/><rect x="411" y="740" width="5" height="10" fill="#00ff00"/><rect x="419" y="740" width="5" height="6" fill="#00ff00"/><rect x="427" y="740" width="5" height="3" fill="#00ff00"/><rect x="435" y="738" width="5" height="2" fill="#00ff00"/><rect x="443" y="735" width="5" height="5" fill="#00ff00"/><rect x="451" y="734" width="5" height="6" fill="#00ff00"/><rect x="459" y="733" width="5" height="7" fill="#00ff00"/><rect x="467" y="731" width="5" height="9" fill="#00ff00"/><rect x="475" y="732" width="5" height="8" fill="#00ff00"/><rect x="483" y="733" width="5" height="7" fill="#00ff00"/><rect x="491" y="735" width="5" height="5" fill="#00ff00"/><rect x="499" y="736" width="5" height="4" fill="#00ff00"/><rect x="507" y="736" width="5" height="4" fill="#00ff00"/><rect x="515" y="736" width="5" height="4" fill="#00ff00"/><rect x="523" y="737" width="5" height="3" fill="#00ff00"/><rect x="531" y="736" width="5" height="4" fill="#00ff00"/><rect x="539" y="738" width="5" height="2" fill="#00ff00"/><rect x="547" y="740" width="5" height="3" fill="#00ff00"/><rect x="555" y="740" width="5" height="6" fill="#00ff00"/><rect x="563" y="740" width="5" height="5" fill="#00ff00"/><rect x="571" y="740" width="5" height="3" fill="#00ff00"/><rect x="579" y="740" width="5" height="0" fill="#00ff00"/><rect x="587" y="737" width="5" height="3" fill="#00ff00"/><rect x="595" y="738" width="5" height="2" fill="#00ff00"/><rect x="603" y="739" width="5" height="1" fill="#00ff00"/><rect x="611" y="738" width="5" height="2" fill="#00ff00"/><rect x="619" y="737" width="5" height="3" fill="#00ff00"/><rect x="627" y="733" width="5" height="7" fill="#00ff00"/><rect x="635" y="734" width="5" height="6" fill="#00ff00"/><rect x="643" y="729" width="5" height="11" fill="#00ff00"/><rect x="651" y="724" width="5" height="16" fill="#00ff00"/><rect x="659" y="718" width="5" height="22" fill="#00ff00"/><rect x="667" y="715" width="5" height="25" fill="#00ff00"/><rect x="675" y="711" width="5" height="29" fill="#00ff00"/><rect x="683" y="702" width="5" height="38" fill="#00ff00"/><rect x="691" y="693" width="5" height="47" fill="#00ff00"/><rect x="699" y="687" width="5" height="53" fill="#00ff00"/><rect x="707" y="684" width="5" height="56" fill="#00ff00"/><rect x="715" y="681" width="5" height="59" fill="#00ff00"/><rect x="723" y="681" width="5" height="59" fill="#00ff00"/><rect x="731" y="686" width="5" height="54" fill="#00ff00"/><rect x="739" y="686" width="5" height="54" fill="#00ff00"/><rect x="747" y="685" width="5" height="55" fill="#00ff00"/><rect x="755" y="684" width="5" height="56" fill="#00ff00"/><rect x="763" y="685" width="5" height="55" fill="#00ff00"/><rect x="771" y="690" width="5" height="50" fill="#00ff00"/><rect x="779" y="699" width="5" height="41" fill="#00ff00"/><rect x="787" y="711" width="5" height="29" fill="#00ff00"/><rect x="795" y="720" width="5" height="20" fill="#00ff00"/><rect x="803" y="726" width="5" height="14" fill="#00ff00"/><rect x="811" y="731" width="5" height="9" fill="#00ff00"/><rect x="819" y="733" width="5" height="7" fill="#00ff00"/><rect x="827" y="736" width="5" height="4" fill="#00ff00"/><rect x="835" y="740" width="5" height="1" fill="#00ff00"/><rect x="843" y="740" width="5" height="3" fill="#00ff00"/><rect x="851" y="740" width="5" height="5" fill="#00ff00"/><rect x="859" y="740" width="5" height="6" fill="#00ff00"/><rect x="867" y="740" width="5" height="7" fill="#00ff00"/><rect x="875" y="740" width="5" height="5" fill="#00ff00"/><rect x="883" y="738" width="5" height="2" fill="#00ff00"/><rect x="891" y="735" width="5" height="5" fill="#00ff00"/><rect x="899" y="734" width="5" height="6" fill="#00ff00"/><rect x="907" y="732" width="5" height="8" fill="#00ff00"/><rect x="915" y="732" width="5" height="8" fill="#00ff00"/><rect x="923" y="730" width="5" height="10" fill="#00ff00"/><rect x="931" y="728" width="5" height="12" fill="#00ff00"/><rect x="939" y="727" width="5" height="13" fill="#00ff00"/><rect x="947" y="724" width="5" height="16" fill="#00ff00"/><rect x="955" y="723" width="5" height="17" fill="#00ff00"/><rect x="963" y="719" width="5" height="21" fill="#00ff00"/><rect x="971" y="718" width="5" height="22" fill="#00ff00"/><rect x="979" y="716" width="5" height="24" fill="#00ff00"/><rect x="987" y="717" width="5" height="23" fill="#00ff00"/><rect x="995" y="720" width="5" height="20" fill="#00ff00"/><rect x="1003" y="720" width="5" height="20" fill="#00ff00"/><rect x="1011" y="721" width="5" height="19" fill="#00ff00"/><rect x="1019" y="726" width="5" height="14" fill="#00ff00"/><rect x="1027" y="731" width="5" height="9" fill="#00ff00"/><rect x="1035" y="734" width="5" height="6" fill="#00ff00"/><rect x="1043" y="736" width="5" height="4" fill="#00ff00"/><rect x="1051" y="737" width="5" height="3" fill="#00ff00"/><rect x="1059" y="737" width="5" height="3" fill="#00ff00"/><rect x="1067" y="731" width="5" height="9" fill="#00ff00"/><rect x="1075" y="722" width="5" height="18" fill="#00ff00"/><rect x="1083" y="718" width="5" height="22" fill="#00ff00"/><rect x="1091" y="715" width="5" height="25" fill="#00ff00"/><rect x="1099" y="713" width="5" height="27" fill="#00ff00"/><rect x="1107" y="713" width="5" height="27" fill="#00ff00"/><rect x="1115" y="711" width="5" height="29" fill="#00ff00"/><rect x="1123" y="712" width="5" height="28" fill="#00ff00"/><rect x="1131" y="712" width="5" height="28" fill="#00ff00"/><rect x="1139" y="718" width="5" height="22" fill="#00ff00"/><rect x="1147" y="725" width="5" height="15" fill="#00ff00"/><rect x="1155" y="733" width="5" height="7" fill="#00ff00"/><rect x="1163" y="740" width="5" height="1" fill="#00ff00"/><rect x="1171" y="740" width="5" height="7" fill="#00ff00"/><rect x="1179" y="740" width="5" height="12" fill="#00ff00"/><rect x="1187" y="740" width="5" height="14" fill="#00ff00"/><polyline points="5,656.3 13,651.5 21,645.9 29,642.4 37,640.4 45,640.2 53,640.2 61,640.3 69,641.0 77,642.9 85,644.7 93,646.9 101,649.5 109,651.7 117,653.7 125,655.9 133,658.1 141,660.7 149,663.5 157,665.7 165,670.2 173,673.9 181,677.4 189,681.4 197,687.1 205,691.9 213,696.3 221,703.1 229,707.5 237,712.0 245,717.3 253,721.7 261,725.5 269,729.2 277,733.0 285,737.4 293,741.0 301,744.3 309,748.8 317,753.2 325,756.7 333,758.7 341,760.7 349,761.9 357,763.2 365,763.4 373,763.4 381,763.4 389,762.2 397,761.2 405,760.5 413,759.2 421,757.2 429,754.7 437,752.4 445,749.9 453,746.5 461,743.9 469,741.0 477,738.5 485,736.6 493,735.1 501,734.4 509,734.4 517,734.4 525,734.4 533,734.4 541,735.3 549,736.3 557,737.2 565,738.2 573,739.1 581,740.3 589,740.3 597,740.3 605,741.2 613,741.2 621,740.4 629,739.3 637,737.5 645,735.9 653,734.5 661,732.4 669,730.5 677,727.7 685,723.3 693,718.2 701,713.2 709,707.0 717,702.0 725,697.5 733,694.7 741,691.3 749,688.2 757,685.7 765,685.4 773,685.4 781,687.4 789,690.2 797,694.1 805,699.1 813,704.2 821,708.7 829,714.3 837,720.4 845,726.1 853,731.1 861,735.0 869,737.6 877,739.9 885,741.3 893,741.3 901,741.3 909,740.4 917,739.4 925,737.8 933,735.6 941,733.7 949,731.8 957,729.9 965,728.3 973,726.6 981,724.9 989,722.6 997,721.4 1005,721.4 1013,720.3 1021,721.1 1029,721.4 1037,723.3 1045,725.2 1053,727.5 1061,730.2 1069,730.4 1077,730.4 1085,730.4 1093,729.0 1101,727.1 1109,724.7 1117,722.3 1125,719.9 1133,716.9 1141,715.3 1149,715.3 1157,717.6 1165,720.2 1173,723.4 1181,728.0 1189,733.2" fill="none" stroke="#ff0000" stroke-width="3" stroke-linejoin="round"/></g>
<g shape-rendering="crispEdges" fill="#000"><rect x="4" y="4" width="1502" height="1"/><rect x="4" y="624" width="1502" height="1"/><rect x="4" y="4" width="1" height="621"/><rect x="1505" y="4" width="1" height="621"/><rect x="4" y="626" width="1502" height="1"/><rect x="4" y="774" width="1502" height="1"/><rect x="4" y="626" width="1" height="149"/><rect x="1505" y="626" width="1" height="149"/><rect x="1506" y="69" width="2" height="1"/><rect x="1506" y="134" width="2" height="1"/><rect x="1506" y="199" width="2" height="1"/><rect x="1506" y="264" width="2" height="1"/><rect x="1506" y="329" width="2" height="1"/><rect x="1506" y="394" width="2" height="1"/><rect x="1506" y="459" width="2" height="1"/><rect x="1506" y="524" width="2" height="1"/><rect x="1506" y="589" width="2" height="1"/><rect x="1506" y="628" width="1" height="1"/><rect x="1506" y="740" width="1" height="1"/><rect x="1506" y="773" width="1" height="1"/><rect x="5" y="775" width="1" height="3"/><rect x="133" y="775" width="1" height="3"/><rect x="261" y="775" width="1" height="3"/><rect x="389" y="775" width="1" height="3"/><rect x="517" y="775" width="1" height="3"/><rect x="645" y="775" width="1" height="3"/><rect x="773" y="775" width="1" height="3"/><rect x="901" y="775" width="1" height="3"/><rect x="1029" y="775" width="1" height="3"/><rect x="1157" y="775" width="1" height="3"/></g>
<g><polygon points="8,12 19,12 13.5,18" fill="#000"/><text x="25" y="21" textLength="79.8" lengthAdjust="spacingAndGlyphs">XAUUSD-,H4</text><text x="112" y="21" letter-spacing="0.33">1776.30</text><text x="168" y="21" letter-spacing="0.33">1784.17</text><text x="224" y="21" letter-spacing="0.33">1775.86</text><text x="280" y="21" letter-spacing="0.33">1782.74</text><text x="9" y="644" textLength="36.7" lengthAdjust="spacingAndGlyphs">MACD</text><text x="46" y="644" letter-spacing="0.24">(12,26,9) -2.865 1.627</text><text x="1512" y="75" letter-spacing="0.33">1818.20</text><text x="1512" y="140" letter-spacing="0.33">1806.80</text><text x="1512" y="335" letter-spacing="0.33">1772.15</text><text x="1512" y="400" letter-spacing="0.33">1760.75</text><text x="1512" y="465" letter-spacing="0.33">1749.20</text><text x="1512" y="530" letter-spacing="0.33">1737.65</text><text x="1512" y="595" letter-spacing="0.33">1726.25</text><text x="1512" y="270" letter-spacing="0.33">1783.70</text><rect x="1507" y="194" width="62" height="17" fill="#0000ff" shape-rendering="crispEdges"/><text x="1512" y="208" letter-spacing="0.33" style="fill:#fff">1795.04</text><rect x="1507" y="262" width="62" height="17" fill="#000" shape-rendering="crispEdges"/><text x="1512" y="276" letter-spacing="0.33" style="fill:#fff">1782.74</text><text x="1508.5" y="642" letter-spacing="0.33">24.889</text><text x="1508.5" y="746" letter-spacing="0.33">0.00</text><text x="1508" y="770" letter-spacing="0.6">-7.492</text><text x="4" y="792" letter-spacing="0.3">11 Nov 2022</text><text x="132" y="792" letter-spacing="0.3">16 Nov 04:00</text><text x="260" y="792" letter-spacing="0.3">18 Nov 19:00</text><text x="387" y="792" letter-spacing="0.3">23 Nov 08:00</text><text x="515" y="792" letter-spacing="0.3">28 Nov 00:00</text><text x="643" y="792" letter-spacing="0.3">30 Nov 16:00</text><text x="771" y="792" letter-spacing="0.3">5 Dec 08:00</text><text x="899" y="792" letter-spacing="0.3">8 Dec 00:00</text><text x="1028" y="792" letter-spacing="0.3">12 Dec 16:00</text><text x="1156" y="792" letter-spacing="0.3">15 Dec 08:00</text></g>
</svg>
</body></html>
